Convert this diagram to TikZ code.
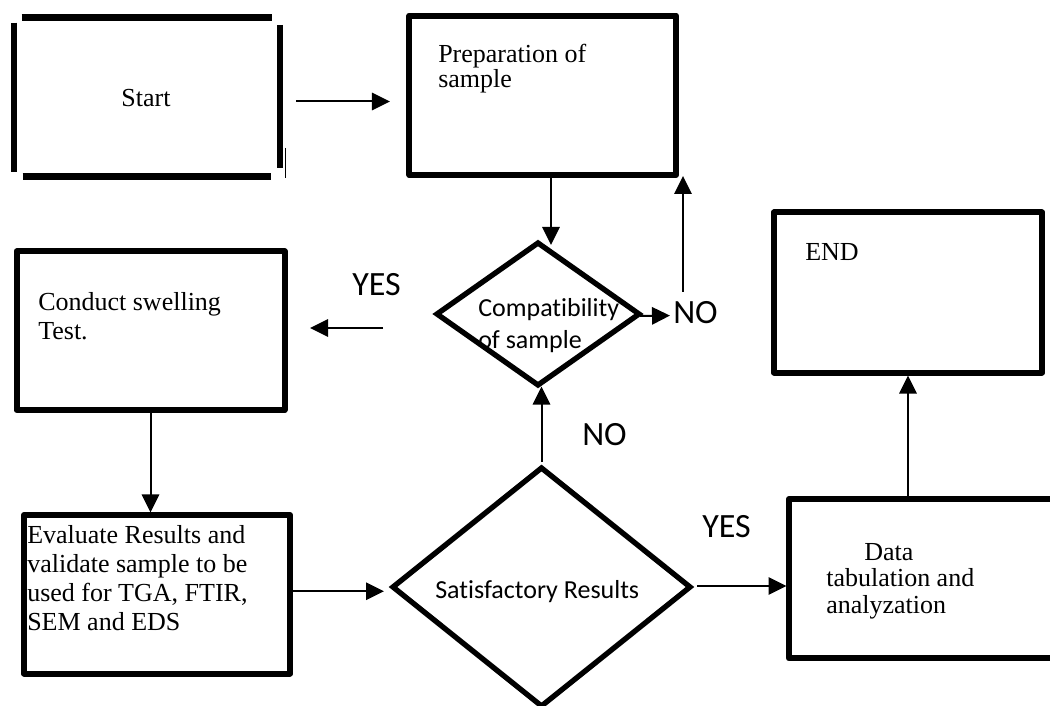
\documentclass[tikz,border=0pt]{standalone}
\usepackage{fontspec}
\setmainfont{Liberation Serif}
\newfontfamily\calF[Ligatures=NoCommon]{Carlito}
\usetikzlibrary{arrows.meta,calc,shapes.geometric}
\begin{document}
\begin{tikzpicture}[x=0.75pt,y=-0.75pt,
  box/.style={draw, rectangle, line width=4.5pt, inner sep=0pt, outer sep=0pt, line join=round},
  dia/.style={draw, diamond, line width=4pt, inner sep=0pt, outer sep=0pt},
  arr/.style={-{Triangle[length=13.5pt,width=13pt]}, line width=1.5pt},
  serif/.style={font=\fontsize{19.5}{21.75}\selectfont, inner sep=0pt, align=left},
  cal/.style={font=\calF\fontsize{19.5}{24}\selectfont, inner sep=0pt, align=left},
  lab/.style={font=\calF\fontsize{25.5}{30}\selectfont, inner sep=0pt},
  brk/.style={line width=5pt}]
\useasboundingbox (0,0) rectangle (1050,706);

% Start (broken border)
\node[inner sep=0pt, outer sep=0pt, minimum width=199.5pt, minimum height=119.25pt,
      font=\fontsize{19.5}{21.75}\selectfont] (start) at (146,98.5) {Start};
\draw[brk] (21.7,17.8) -- (271.7,17.8);
\draw[brk] (14,22.7) -- (14,171.7);
\draw[brk] (280,25) -- (280,168.3);
\draw[brk] (22.7,176.7) -- (270.7,176.7);
\draw[line width=0.75pt] (285,148) -- (285,178);

% Boxes
\node[box, minimum width=199.9pt, minimum height=119.6pt] (prep) at (542.75,95.25) {};
\node[box, minimum width=201pt, minimum height=118.9pt] (conduct) at (150.5,330.75) {};
\node[box, minimum width=199.5pt, minimum height=118.9pt] (evaluate) at (157,594.25) {};
\node[box, minimum width=201pt, minimum height=120pt] (end) at (908,292.5) {};
\node[box, minimum width=201pt, minimum height=119.6pt] (data) at (923,578.75) {};

% Diamonds
\node[dia, minimum width=151.5pt, minimum height=106.5pt] (compat) at (538,314) {};
\node[dia, minimum width=222.75pt, minimum height=178.5pt] (sat) at (541.5,587) {};

% Texts
\node[serif, font=\fontsize{19.5}{19}\selectfont, anchor=north west] (preptxt) at (438,44) {Preparation of\\sample};
\node[serif, anchor=north west] (conducttxt) at (38,292) {Conduct swelling\\Test.};
\node[serif, anchor=north west] (evaltxt) at (27,525) {Evaluate Results and\\validate sample to be\\used for TGA, FTIR,\\SEM and EDS};
\node[serif, font=\fontsize{19.5}{20}\selectfont, anchor=north west] (datatxt) at (826,543) {\hspace*{28.5pt}Data\\tabulation and\\analyzation};
\node[serif, anchor=base west] (endtxt) at (805,260) {END};
\node[cal, anchor=north west] (compattxt) at (478,298) {Compatibility\\of sample};
\node[cal, anchor=base west] (sattxt) at (435,598) {Satisfactory Results};

% Labels
\node[lab, anchor=base west] (yesU) at (352,295) {YES};
\node[lab, anchor=base west] (noR) at (673,323) {NO};
\node[lab, anchor=base west] (noL) at (582,445) {NO};
\node[lab, anchor=base west] (yesL) at (702,537) {YES};

% Connectors
\draw[arr] ($(start.east)+(17,3)$) -- ($(prep.west)+(-19.5,6.25)$);
\draw[arr] ($(prep.south)+(8.25,0)$) -- ($(compat.north)+(13,2)$);
\draw[arr] ($(compat.east)+(1,2)$) -- ($(noR.west)+(-3,3.5)$);
\coordinate (noUp) at ($(prep.south east)+(7,1)$);
\draw[arr] ($(noR.north -| noUp)+(0,-9)$) -- (noUp);
\draw[arr] ($(conduct.east)+(98.5,-2.75)$) -- ($(conduct.east)+(25.5,-2.75)$);
\draw[arr] (conduct.south) -- ($(conduct.south |- evaluate.north)+(0,-2.5)$);
\draw[arr] ($(evaluate.east)+(0,-3)$) -- ($(sat.west)+(-9,4.25)$);
\draw[arr] ($(sat.north)+(0,-6)$) -- ($(sat.north |- compat.south)+(0,1.5)$);
\draw[arr] ($(sat.east)+(7,-1)$) -- ($(data.west)+(-2.5,7.25)$);
\draw[arr] (data.north -| end.south) -- ($(end.south)+(0,3)$);
\end{tikzpicture}
\end{document}
